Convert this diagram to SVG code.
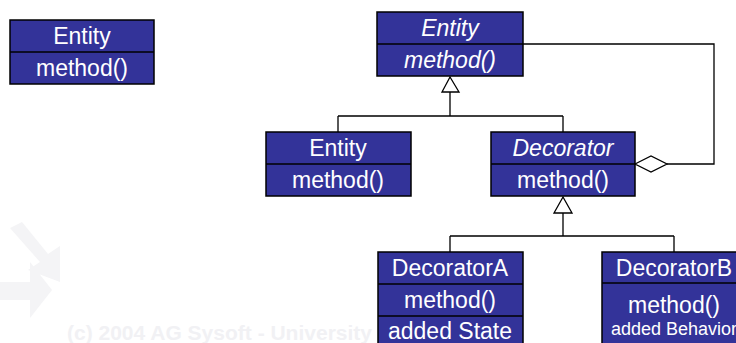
<svg xmlns="http://www.w3.org/2000/svg" width="736" height="343" viewBox="0 0 736 343">
<style>
.box{fill:#333399;stroke:#000;stroke-width:1.5}
.div{stroke:#000;stroke-width:1.5}
.t{font-family:"Liberation Sans",Arial,sans-serif;font-size:23px;fill:#fff;text-anchor:middle}
.i{font-style:italic}
.s{font-size:18px}
.ln{fill:none;stroke:#000;stroke-width:1.3}
.wm{font-family:"Liberation Sans",Arial,sans-serif;font-size:20px;font-weight:bold;fill:#f1f1f4}
</style>
<g id="watermark">
<path d="M10 228 L40 262 L28 270 L60 282 L60 246 L48 254 L22 222 Z M0 300 L30 300 L30 318 L52 290 L30 262 L30 282 L0 282 Z" fill="#f4f4f6"/>
<text class="wm" x="67" y="340" textLength="305" lengthAdjust="spacingAndGlyphs">(c) 2004 AG Sysoft - University</text>
</g>
<g id="connectors">
<polygon points="450,77 442,92 459,92" fill="#fff" stroke="#000" stroke-width="1.3"/>
<path class="ln" d="M450 92 V116 M338 116 H563 M338 116 V132 M563 116 V132"/>
<polygon points="563,197 554,213 572,213" fill="#fff" stroke="#000" stroke-width="1.3"/>
<path class="ln" d="M563 213 V236 M450 236 H674 M450 236 V252 M674 236 V252"/>
<path class="ln" d="M523 44 H714 V164 H667"/>
<polygon points="635,164 651,156 667,164 651,172" fill="#fff" stroke="#000" stroke-width="1.3"/>
</g>
<g id="entity-left">
<rect class="box" x="10" y="20" width="144" height="64"/>
<line class="div" x1="10" y1="52" x2="154" y2="52"/>
<text class="t" x="82" y="44">Entity</text>
<text class="t" x="82" y="76">method()</text>
</g>
<g id="entity-abstract">
<rect class="box" x="377" y="12" width="146" height="64"/>
<line class="div" x1="377" y1="44" x2="523" y2="44"/>
<text class="t i" x="450" y="36">Entity</text>
<text class="t i" x="450" y="68">method()</text>
</g>
<g id="entity-concrete">
<rect class="box" x="266" y="132" width="145" height="64"/>
<line class="div" x1="266" y1="164" x2="411" y2="164"/>
<text class="t" x="338" y="156">Entity</text>
<text class="t" x="338" y="188">method()</text>
</g>
<g id="decorator">
<rect class="box" x="491" y="132" width="144" height="64"/>
<line class="div" x1="491" y1="164" x2="635" y2="164"/>
<text class="t i" x="563" y="156">Decorator</text>
<text class="t" x="563" y="188">method()</text>
</g>
<g id="decoratorA">
<rect class="box" x="378" y="252" width="145" height="100"/>
<line class="div" x1="378" y1="284" x2="523" y2="284"/>
<line class="div" x1="378" y1="316" x2="523" y2="316"/>
<text class="t" x="450" y="276">DecoratorA</text>
<text class="t" x="450" y="308">method()</text>
<text class="t" x="450" y="339">added State</text>
</g>
<g id="decoratorB">
<rect class="box" x="602" y="252" width="145" height="100"/>
<line class="div" x1="602" y1="283" x2="747" y2="283"/>
<text class="t" x="674" y="276">DecoratorB</text>
<text class="t" x="674" y="313">method()</text>
<text class="t s" x="674" y="335">added Behavior</text>
</g>
</svg>
